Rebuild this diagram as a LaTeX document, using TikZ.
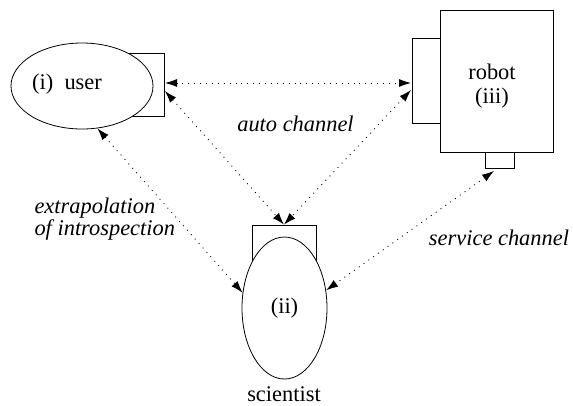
\documentclass[tikz,border=0pt]{standalone}
\usepackage{fontspec}
\setmainfont{Liberation Serif}
\usetikzlibrary{arrows.meta,shapes.geometric}

\newcommand{\picfont}{\fontsize{22.5}{22}\selectfont}

\tikzset{
  port/.style={draw, fill=white, inner sep=0pt, line width=0.8bp},
  agent/.style={ellipse, draw, fill=white, inner sep=0pt, line width=0.8bp},
  box/.style={rectangle, draw, fill=white, inner sep=0pt, line width=0.8bp},
  channel/.style={{Latex[length=12bp,width=8bp]}-{Latex[length=12bp,width=8bp]},
    line width=0.9bp, dash pattern=on 0.9bp off 5bp},
  tag/.style={font=\picfont\itshape}
}

\begin{document}
\begin{tikzpicture}[x=1bp,y=-1bp,font=\picfont]
\useasboundingbox (0,0) rectangle (573,405);

% user
\node[port, minimum width=39bp, minimum height=63bp] (userport) at (144.5,84.5) {};
\node[agent, minimum width=142bp, minimum height=86bp] (user) at (82,86) {};
\node (usertext) at (67,84) {(i)\ \ user};

% robot
\node[port, minimum width=28bp, minimum height=85bp] (robotport) at (426,80.5) {};
\node[port, minimum width=29bp, minimum height=16bp] (robotbase) at (499.5,160) {};
\node[box, minimum width=113bp, minimum height=142bp] (robot) at (496.5,81) {};
\node[align=center] (robottext) at (492,86) {robot\\[2bp](iii)};

% scientist
\node[port, minimum width=64bp, minimum height=54bp] (sciport) at (284,252) {};
\node[agent, minimum width=85bp, minimum height=142bp] (scientist) at (284.5,308) {(ii)};
\node (scilabel) at (284,394) {scientist};

% channel ends
\coordinate (uh) at (165,83);
\coordinate (rh) at (411,83);
\coordinate (ud) at (165,91);
\coordinate (rd) at (411,90);
\coordinate (rb) at (494,171);

\draw[channel] (uh) -- (rh);
\draw[channel] (ud) -- (sciport.north);
\draw[channel] (rd) -- (sciport.north);
\draw[channel] (user.-70) -- (scientist.160.6);
\draw[channel] (rb) -- (scientist.23);

\node[tag] (auto) at (295.5,124) {auto channel};
\node[tag] (service) at (499,238) {service channel};
\node[tag, align=left, anchor=west] (extra) at (31,219) {extrapolation\\of introspection};

\end{tikzpicture}
\end{document}
